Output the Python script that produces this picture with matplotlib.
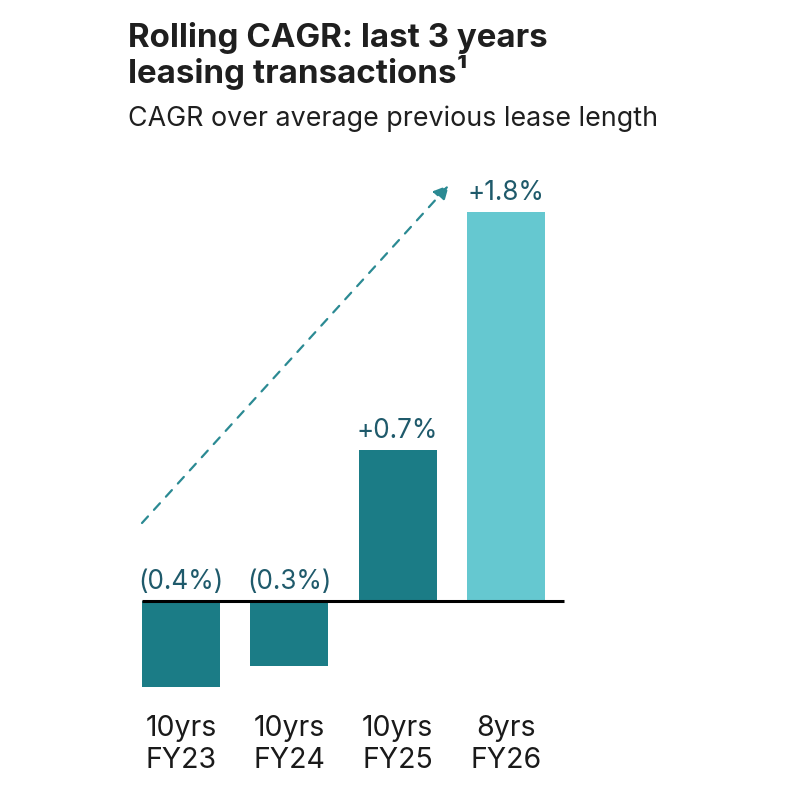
import numpy as np
import matplotlib.pyplot as plt

plt.rcParams['font.family'] = ['Inter', 'DejaVu Sans']

# data
years = ['FY23', 'FY24', 'FY25', 'FY26']
lease_len = ['10yrs', '10yrs', '10yrs', '8yrs']
cagr = [-0.4, -0.3, 0.7, 1.8]
value_labels = ['(0.4%)', '(0.3%)', '+0.7%', '+1.8%']

dark = '#1b7c86'
light = '#65c8d0'
label_col = '#1f5a6b'
bar_colors = [dark, dark, dark, light]

W = 786
fig = plt.figure(figsize=(7.86, 7.86), dpi=100)
ax = fig.add_axes([0, 0, 1, 1])

# map pixels -> data: bar spacing 108.3 px, 216 px per 1%
px_x = lambda p: (p - 181) / 108.33
px_y = lambda p: (601 - p) / 216
ax.set_xlim(px_x(0), px_x(W))
ax.set_ylim(px_y(W), px_y(0))
ax.axis('off')

x = np.arange(len(cagr))
ax.bar(x, cagr, width=0.72, color=bar_colors, zorder=2)
ax.plot([px_x(142), px_x(564)], [0, 0], color='black', lw=2.2, zorder=3,
        solid_capstyle='butt')

for i, (v, lab) in enumerate(zip(cagr, value_labels)):
    top = max(v, 0)
    ax.text(x[i], top + 12 / 216, lab, ha='center', va='baseline', fontsize=18.8,
            color=label_col)
    ax.text(x[i], px_y(736), lease_len[i], ha='center', va='baseline',
            fontsize=20.5, color='#1a1a1a')
    ax.text(x[i], px_y(768), years[i], ha='center', va='baseline',
            fontsize=20.5, color='#1a1a1a')

# dashed trend arrow
ax.annotate('', xy=(px_x(449), px_y(185)), xytext=(px_x(142), px_y(523)),
            arrowprops=dict(arrowstyle='-|>,head_length=0.9,head_width=0.45',
                            color='#2b8a93', lw=1.6, linestyle=(0, (4, 4)),
                            shrinkA=0, shrinkB=0))

fig.text(128 / W, 1 - 47 / W, 'Rolling CAGR: last 3 years', fontsize=23.8,
         fontweight='bold', color='#1f1f1f', va='baseline')
fig.text(128 / W, 1 - 83 / W, 'leasing transactions\u00b9', fontsize=23.8,
         fontweight='bold', color='#1f1f1f', va='baseline')
fig.text(128 / W, 1 - 126 / W, 'CAGR over average previous lease length',
         fontsize=19.3, color='#1f1f1f', va='baseline')

fig.savefig('out.png', dpi=100, facecolor='white')
